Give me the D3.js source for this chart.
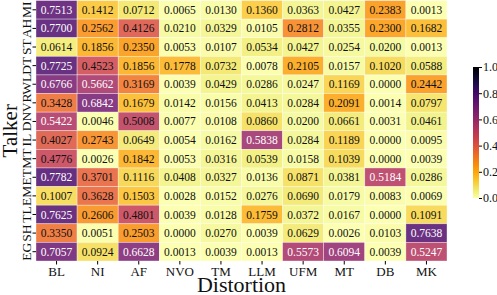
<!DOCTYPE html>
<html>
<head>
  <meta charset="utf-8">
  <style>
    body { margin: 0; background: #fff; }
    text { font-family: "Liberation Serif", "Times New Roman", serif; }
  </style>
  <script src="https://d3js.org/d3.v7.min.js"></script>
</head>
<body>
  <svg id="chart" width="497" height="295"></svg>
  <script>
    const distortions = ['BL', 'NI', 'AF', 'NVO', 'TM', 'LLM', 'UFM', 'MT', 'DB', 'MK'];
    const talkers = ['MI', 'AH', 'ST', 'DT', 'WL', 'VR', 'DN', 'IL', 'MT', 'ET', 'EM', 'TL', 'SH', 'EG'];
    const values = [
      [0.7513, 0.1412, 0.0712, 0.0065, 0.0130, 0.1360, 0.0363, 0.0427, 0.2383, 0.0013],
      [0.7700, 0.2562, 0.4126, 0.0210, 0.0329, 0.0105, 0.2812, 0.0355, 0.2300, 0.1682],
      [0.0614, 0.1856, 0.2350, 0.0053, 0.0107, 0.0534, 0.0427, 0.0254, 0.0200, 0.0013],
      [0.7725, 0.4523, 0.1856, 0.1778, 0.0732, 0.0078, 0.2105, 0.0157, 0.1020, 0.0588],
      [0.6766, 0.5662, 0.3169, 0.0039, 0.0429, 0.0286, 0.0247, 0.1169, 0.0000, 0.2442],
      [0.3428, 0.6842, 0.1679, 0.0142, 0.0156, 0.0413, 0.0284, 0.2091, 0.0014, 0.0797],
      [0.5422, 0.0046, 0.5008, 0.0077, 0.0108, 0.0860, 0.0200, 0.0661, 0.0031, 0.0461],
      [0.4027, 0.2743, 0.0649, 0.0054, 0.0162, 0.5838, 0.0284, 0.1189, 0.0000, 0.0095],
      [0.4776, 0.0026, 0.1842, 0.0053, 0.0316, 0.0539, 0.0158, 0.1039, 0.0000, 0.0039],
      [0.7782, 0.3701, 0.1116, 0.0408, 0.0327, 0.0136, 0.0871, 0.0381, 0.5184, 0.0286],
      [0.1007, 0.3628, 0.1503, 0.0028, 0.0152, 0.0276, 0.0690, 0.0179, 0.0083, 0.0069],
      [0.7625, 0.2606, 0.4801, 0.0039, 0.0128, 0.1759, 0.0372, 0.0167, 0.0000, 0.1091],
      [0.3350, 0.0051, 0.2503, 0.0000, 0.0270, 0.0039, 0.0629, 0.0026, 0.0103, 0.7638],
      [0.7057, 0.0924, 0.6628, 0.0013, 0.0039, 0.0013, 0.5573, 0.6094, 0.0039, 0.5247]
    ];
    const cbarTicks = [0, 0.2, 0.4, 0.6, 0.8, 1.0];

    const svg = d3.select('#chart');
    const mLeft = 36, mRight = 447, mTop = 0.5, mBottom = 261;

    const x = d3.scaleBand().domain(distortions).range([mLeft, mRight]);
    const y = d3.scaleBand().domain(talkers).range([mTop, mBottom]);
    const color = v => d3.interpolateInferno(1 - v);

    // cells
    const cells = [];
    values.forEach((row, i) => row.forEach((v, j) => cells.push({ t: talkers[i], d: distortions[j], v })));

    svg.append('g').selectAll('rect')
      .data(cells)
      .enter().append('rect')
      .attr('x', d => x(d.d))
      .attr('y', d => y(d.t))
      .attr('width', x.bandwidth())
      .attr('height', y.bandwidth())
      .attr('fill', d => color(d.v))
      .attr('fill-opacity', 0.85)
      .attr('stroke', '#fff')
      .attr('stroke-opacity', 0.6)
      .attr('stroke-width', 0.6);

    svg.append('g').selectAll('text')
      .data(cells)
      .enter().append('text')
      .attr('x', d => x(d.d) + x.bandwidth() / 2)
      .attr('y', d => y(d.t) + y.bandwidth() / 2)
      .attr('dy', '0.35em')
      .attr('text-anchor', 'middle')
      .attr('font-size', 11.5)
      .attr('fill', d => d.v > 0.51 ? '#fff' : '#111')
      .text(d => d.v.toFixed(4));

    // x axis
    const xAxis = svg.append('g')
      .attr('transform', `translate(0,${mBottom})`)
      .call(d3.axisBottom(x).tickSize(3.5).tickPadding(2));
    xAxis.select('.domain').remove();
    xAxis.selectAll('text').attr('font-size', 13).attr('fill', '#111')
      .style('font-family', '"Liberation Serif", serif');

    // y axis, labels rotated
    const yAxis = svg.append('g')
      .attr('transform', `translate(${mLeft},0)`)
      .call(d3.axisLeft(y).tickSize(3.5).tickPadding(0));
    yAxis.select('.domain').remove();
    yAxis.selectAll('text')
      .attr('x', 0).attr('dy', 0)
      .attr('transform', 'translate(-5,0) rotate(-90)')
      .attr('text-anchor', 'middle')
      .attr('font-size', 13.5).attr('fill', '#111')
      .style('font-family', '"Liberation Serif", serif');

    // axis titles
    svg.append('text')
      .attr('x', (mLeft + mRight) / 2).attr('y', 292)
      .attr('text-anchor', 'middle')
      .attr('font-size', 22)
      .attr('fill', '#111')
      .text('Distortion');

    svg.append('text')
      .attr('transform', `translate(17,${(mTop + mBottom) / 2}) rotate(-90)`)
      .attr('text-anchor', 'middle')
      .attr('font-size', 21)
      .attr('fill', '#111')
      .text('Talker');

    // colorbar
    const cbX = 473, cbW = 6, cbTop = 67, cbBottom = 198;
    const cbScale = d3.scaleLinear().domain([0, 1]).range([cbBottom, cbTop]);
    const defs = svg.append('defs');
    const grad = defs.append('linearGradient')
      .attr('id', 'cbar').attr('x1', 0).attr('y1', 1).attr('x2', 0).attr('y2', 0);
    d3.range(0, 1.001, 0.05).forEach(s => {
      grad.append('stop').attr('offset', s).attr('stop-color', color(s));
    });
    svg.append('rect')
      .attr('x', cbX).attr('y', cbTop)
      .attr('width', cbW).attr('height', cbBottom - cbTop)
      .attr('fill', 'url(#cbar)');

    const cbAxis = svg.append('g')
      .attr('transform', `translate(${cbX + cbW},0)`)
      .call(d3.axisRight(cbScale).tickValues(cbarTicks).tickFormat(d3.format('.1f')).tickSize(3).tickPadding(1));
    cbAxis.select('.domain').remove();
    cbAxis.selectAll('text').attr('font-size', 12).attr('fill', '#111')
      .style('font-family', '"Liberation Serif", serif');
  </script>
</body>
</html>
